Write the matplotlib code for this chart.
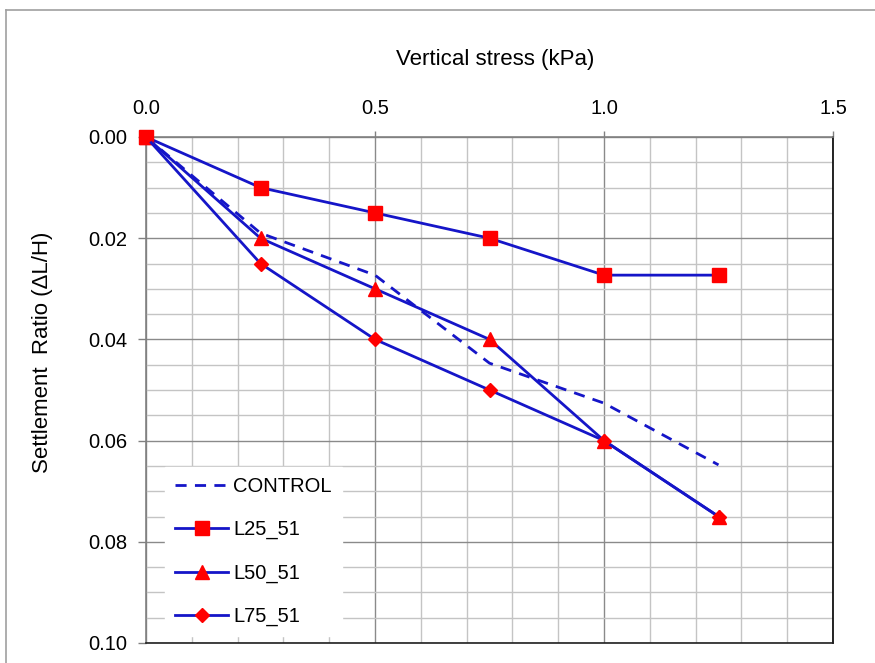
import matplotlib
matplotlib.use("Agg")
import matplotlib.pyplot as plt
from matplotlib.lines import Line2D
from matplotlib.ticker import MultipleLocator

plt.rcParams['font.family'] = ['Liberation Sans', 'DejaVu Sans']

stress = [0.0, 0.25, 0.5, 0.75, 1.0, 1.25]
control = [0.0, 0.019, 0.0273, 0.0447, 0.0526, 0.0648]
l25_51 = [0.0, 0.010, 0.015, 0.020, 0.0273, 0.0273]
l50_51 = [0.0, 0.020, 0.030, 0.040, 0.060, 0.075]
l75_51 = [0.0, 0.025, 0.040, 0.050, 0.060, 0.075]

blue = '#1515c8'
red = '#ff0000'

W, H = 875, 663
fig = plt.figure(figsize=(W / 100, H / 100), dpi=100)
ax = fig.add_axes([146 / W, 1 - 643 / H, (833 - 146) / W, (643 - 137) / H])

# figure border (gray)
fig.add_artist(Line2D([5.5 / W, 5.5 / W], [0, 1 - 9.5 / H], color='#a0a0a0', lw=1.2, transform=fig.transFigure))
fig.add_artist(Line2D([5.5 / W, 1], [1 - 9.5 / H, 1 - 9.5 / H], color='#a0a0a0', lw=1.2, transform=fig.transFigure))

ax.set_xlim(0, 1.5)
ax.set_ylim(0.10, 0.0)

ax.xaxis.set_major_locator(MultipleLocator(0.5))
ax.xaxis.set_minor_locator(MultipleLocator(0.1))
ax.yaxis.set_major_locator(MultipleLocator(0.02))
ax.yaxis.set_minor_locator(MultipleLocator(0.005))

ax.grid(which='minor', color='#c4c4c4', lw=1.0)
ax.grid(which='major', color='#8a8a8a', lw=1.0)
ax.set_axisbelow(True)

ax.xaxis.tick_top()
ax.xaxis.set_label_position('top')
ax.tick_params(axis='x', which='major', direction='out', length=4, width=1, color='#808080',
               pad=10, labelsize=14.5)
ax.tick_params(axis='y', which='major', direction='out', length=6, width=1, color='#808080',
               pad=7.5, labelsize=14.5)
ax.tick_params(which='minor', length=0)
ax.xaxis.set_major_formatter(plt.FuncFormatter(lambda v, p: f'{v:.1f}'))
ax.yaxis.set_major_formatter(plt.FuncFormatter(lambda v, p: f'{v:.2f}'))

ax.spines['left'].set_color('#808080')
ax.spines['top'].set_color('#808080')
ax.spines['right'].set_color('#000000')
ax.spines['bottom'].set_color('#202020')
for s in ax.spines.values():
    s.set_linewidth(1.2)

ax.set_xlabel('Vertical stress (kPa)', fontsize=16, labelpad=24)
ax.xaxis.label.set_x(0.508)
ax.set_ylabel('Settlement  Ratio (\u0394L/H)', fontsize=16)
ax.yaxis.set_label_coords(-0.136, 0.575)

ax.plot(stress, control, color=blue, lw=2, ls=(0, (4, 3)), label='CONTROL', clip_on=False)
ax.plot(stress, l25_51, color=blue, lw=2, marker='s', ms=9.5, mfc=red, mec=red,
        label='L25_51', clip_on=False, zorder=4)
ax.plot(stress, l50_51, color=blue, lw=2, marker='^', ms=9.5, mfc=red, mec=red,
        label='L50_51', clip_on=False, zorder=4)
ax.plot(stress, l75_51, color=blue, lw=2, marker='D', ms=7, mfc=red, mec=red,
        label='L75_51', clip_on=False, zorder=4)

leg = ax.legend(loc='upper left', bbox_to_anchor=(0.0277, 0.348), borderaxespad=0,
                fontsize=14.5, frameon=True, fancybox=False, edgecolor='white',
                facecolor='white', framealpha=1, handlelength=2.64, handletextpad=0.25,
                labelspacing=1.2, borderpad=0.5)

fig.savefig('out.png', dpi=100)
